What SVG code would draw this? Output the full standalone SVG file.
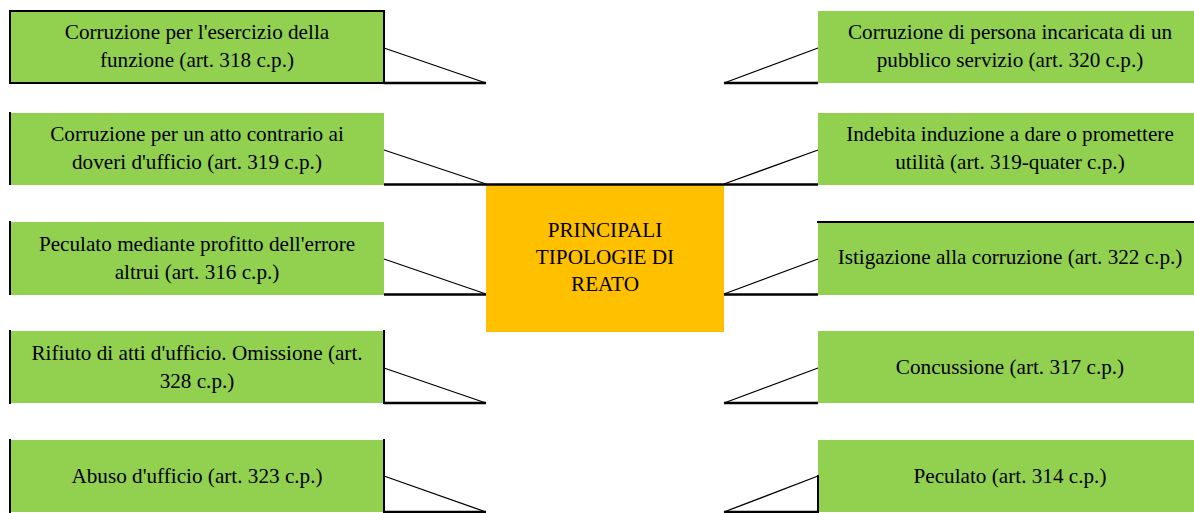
<svg xmlns="http://www.w3.org/2000/svg" width="1194" height="513" viewBox="0 0 1194 513">
<style>
.box{fill:#92D050;stroke:none}
.center{fill:#FFC000;stroke:none}
.bd{fill:none;stroke:#000;stroke-width:2;stroke-linecap:square}
.diag{fill:none;stroke:#000;stroke-width:1.3}
.hl{fill:none;stroke:#000;stroke-width:2.5}
text{font-family:"Liberation Serif","Times New Roman",serif;font-size:21.2px;fill:#000;text-anchor:middle}
</style>
<rect width="1194" height="513" fill="#fff"/>
<g id="node-l1">
<rect class="box" x="10" y="11" width="374" height="72"/>
<rect class="bd" x="10" y="11" width="374" height="72"/>
<text x="197" y="39">Corruzione per l'esercizio della</text>
<text x="197" y="67">funzione (art. 318 c.p.)</text>
</g>
<g id="node-l2">
<rect class="box" x="10" y="113" width="374" height="72"/>
<path class="bd" d="M10 113V184"/>
<text x="197" y="141">Corruzione per un atto contrario ai</text>
<text x="197" y="169">doveri d'ufficio (art. 319 c.p.)</text>
</g>
<g id="node-l3">
<rect class="box" x="10" y="222" width="374" height="73"/>
<path class="bd" d="M10 222V294"/>
<text x="197" y="251">Peculato mediante profitto dell'errore</text>
<text x="197" y="279">altrui (art. 316 c.p.)</text>
</g>
<g id="node-l4">
<rect class="box" x="10" y="331" width="374" height="72"/>
<path class="bd" d="M10 331V403M384 331V403"/>
<text x="197" y="360">Rifiuto di atti d'ufficio. Omissione (art.</text>
<text x="197" y="388">328 c.p.)</text>
</g>
<g id="node-l5">
<rect class="box" x="10" y="440" width="374" height="72"/>
<path class="bd" d="M10 440V512M384 440V512"/>
<text x="197" y="483">Abuso d'ufficio (art. 323 c.p.)</text>
</g>
<g id="node-center">
<rect class="center" x="486" y="184" width="238" height="148"/>
<text x="605" y="237">PRINCIPALI</text>
<text x="605" y="264">TIPOLOGIE DI</text>
<text x="605" y="291">REATO</text>
</g>
<g id="node-r1">
<rect class="box" x="818" y="11" width="384" height="72"/>
<text x="1010" y="39">Corruzione di persona incaricata di un</text>
<text x="1010" y="67">pubblico servizio (art. 320 c.p.)</text>
</g>
<g id="node-r2">
<rect class="box" x="818" y="113" width="384" height="72"/>
<text x="1010" y="141">Indebita induzione a dare o promettere</text>
<text x="1010" y="169">utilità (art. 319-quater c.p.)</text>
</g>
<g id="node-r3">
<rect class="box" x="818" y="222" width="384" height="73"/>
<path class="bd" d="M818 222H1194"/>
<text x="1010" y="264">Istigazione alla corruzione (art. 322 c.p.)</text>
</g>
<g id="node-r4">
<rect class="box" x="818" y="331" width="384" height="72"/>
<text x="1010" y="374">Concussione (art. 317 c.p.)</text>
</g>
<g id="node-r5">
<rect class="box" x="818" y="440" width="384" height="72"/>
<path class="bd" d="M818 476V512"/>
<text x="1010" y="483">Peculato (art. 314 c.p.)</text>
</g>
<g id="connectors">
<path class="hl" d="M384 83H486M384 184.5H818M384 294.5H486M384 403H486M384 512H486"/>
<path class="hl" d="M724 83H818M724 294.5H818M724 403H818M724 512H818"/>
<path class="diag" d="M384 48L486 83M384 150L486 184M384 259L486 294M384 368L486 403M384 476L486 512"/>
<path class="diag" d="M818 48L724 83M818 150L724 184M818 259L724 294M818 368L724 403M818 476L724 512"/>
</g>
</svg>
